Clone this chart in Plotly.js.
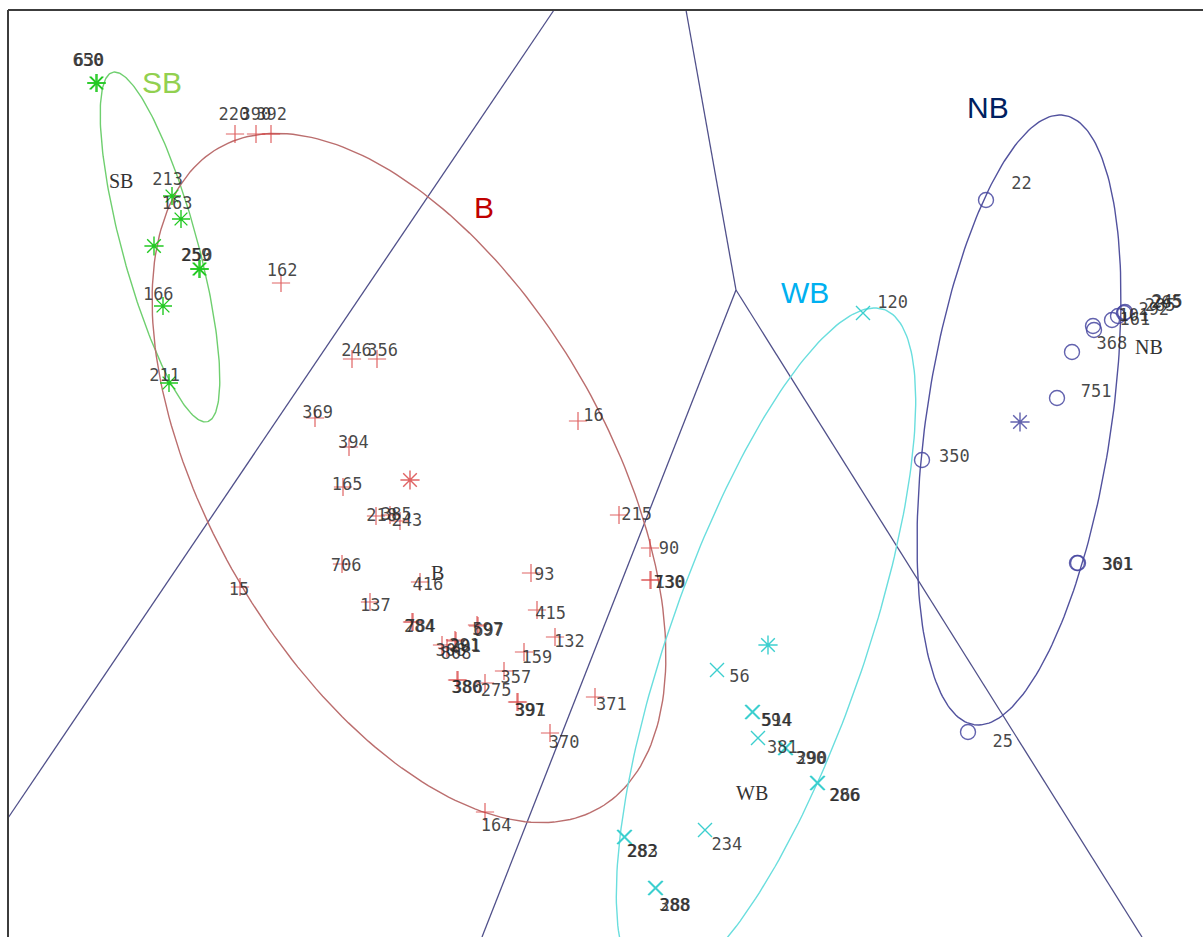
<!DOCTYPE html>
<html>
<head>
<meta charset="utf-8">
<script src="https://cdn.plot.ly/plotly-3.0.1.min.js"></script>
<style>
  html, body { margin: 0; padding: 0; background: #fff; }
  #chart { width: 1203px; height: 937px; }
</style>
</head>
<body>
<div id="chart"></div>
<script>
// Canonical discriminant scores (plot units) for each case, by group.
const sbId = ['650', '630', '213', '163', '259', '250', '166', '211'];
const sbX  = [96, 97, 172, 181, 199, 200, 163, 169];
const sbY  = [83, 83, 196, 219, 269, 269, 306, 383];

const bId = ['220', '390', '392', '162', '246', '356', '369', '394', '165', '218', '385', '243',
             '706', '416', '93', '16', '215', '90', '730', '130', '137', '284', '784', '597', '697',
             '291', '201', '308', '808', '380', '386', '275', '357', '397', '391', '415', '132',
             '159', '371', '370', '164', '15'];
const bX = [235, 256, 271, 281, 352, 377, 315, 349, 343, 376, 390, 400,
            342, 420, 531, 578, 619, 650, 650, 651, 370, 412, 413, 477, 478,
            455, 456, 442, 447, 457, 458, 485, 504, 517, 518, 537, 555,
            524, 595, 550, 485, 240];
const bY = [134, 134, 134, 283, 359, 359, 418, 447, 487, 516, 515, 521,
            564, 582, 573, 421, 515, 548, 580, 580, 602, 622, 622, 625, 626,
            640, 641, 645, 648, 680, 680, 683, 671, 702, 702, 610, 637,
            652, 697, 733, 812, 587];

const wbId = ['120', '56', '594', '514', '381', '390', '290', '286', '266', '234', '282', '283', '388', '288'];
const wbX  = [863, 717, 752, 753, 758, 785, 786, 817, 818, 705, 624, 625, 655, 656];
const wbY  = [313, 670, 712, 712, 738, 748, 748, 783, 783, 830, 837, 837, 888, 888];

const nbId = ['22', '292', '285', '245', '265', '161', '101', '368', '751', '350', '361', '301', '25'];
const nbX  = [986, 1112, 1118, 1125, 1124, 1094, 1093, 1072, 1057, 922, 1077, 1078, 968];
const nbY  = [200, 320, 316, 312, 313, 330, 326, 352, 398, 460, 563, 563, 732];

// Group centroids
const groupNames = ['SB', 'B', 'WB', 'NB'];
const centroidX = [154, 410, 768, 1020];
const centroidY = [246, 480, 645, 422];

// Confidence ellipses: centre, semi-axes and rotation (degrees)
const ellipseCX = [160, 409, 766, 1019];
const ellipseCY = [247, 478, 648, 420];
const ellipseA  = [181, 381, 358.5, 308];
const ellipseB  = [37.7, 199, 97.7, 92.5];
const ellipseAngle = [74.8, 60, 109.2, 98.4];

// Territorial map boundaries (segments)
const boundaryX = [[8, 554], [736, 686], [736, 482], [736, 1142]];
const boundaryY = [[818, 10], [290, 10], [290, 937], [290, 937]];

// Styling
const groupColor   = { SB: '#22c922', B: 'rgba(215,60,60,0.8)', WB: '#3ccfcf', NB: 'rgba(70,70,160,0.85)' };
const ellipseColor = { SB: '#6fcf6f', B: '#bb6e6e', WB: '#6adede', NB: '#52529e' };
const headingColor = { SB: '#92D050', B: '#C00000', WB: '#00B0F0', NB: '#002060' };
const groupSymbol  = { SB: 'asterisk-open', B: 'cross-thin-open', WB: 'x-thin-open', NB: 'circle-open' };
const groupSize    = { SB: 15, B: 13, WB: 14, NB: 15 };

const groups = {
  SB: { id: sbId, x: sbX, y: sbY },
  B:  { id: bId,  x: bX,  y: bY },
  WB: { id: wbId, x: wbX, y: wbY },
  NB: { id: nbId, x: nbX, y: nbY }
};

// Case labels are placed on a slightly expanded copy of the scores
const labelScale = 0.049, labelOX = 260, labelOY = 510;
function labelPos(v, o) { return v + labelScale * (v - o); }

function ellipsePoints(cx, cy, a, b, deg) {
  const th = deg * Math.PI / 180, xs = [], ys = [];
  for (let i = 0; i <= 240; i++) {
    const t = 2 * Math.PI * i / 240;
    xs.push(cx + a * Math.cos(t) * Math.cos(th) - b * Math.sin(t) * Math.sin(th));
    ys.push(cy + a * Math.cos(t) * Math.sin(th) + b * Math.sin(t) * Math.cos(th));
  }
  return { x: xs, y: ys };
}

const traces = [];

boundaryX.forEach((bx, i) => {
  traces.push({
    type: 'scatter', mode: 'lines', x: bx, y: boundaryY[i],
    line: { color: '#50508a', width: 1.3 }, hoverinfo: 'skip', showlegend: false
  });
});

groupNames.forEach((g, i) => {
  const e = ellipsePoints(ellipseCX[i], ellipseCY[i], ellipseA[i], ellipseB[i], ellipseAngle[i]);
  traces.push({
    type: 'scatter', mode: 'lines', x: e.x, y: e.y,
    line: { color: ellipseColor[g], width: 1.4 }, hoverinfo: 'skip', showlegend: false
  });
});

groupNames.forEach(g => {
  const d = groups[g];
  traces.push({
    type: 'scatter', mode: 'markers', x: d.x, y: d.y, name: g,
    marker: {
      symbol: groupSymbol[g], size: groupSize[g], color: groupColor[g],
      line: { color: groupColor[g], width: g === 'B' ? 1.2 : 1.4 }
    },
    hoverinfo: 'skip', showlegend: false
  });
});

groupNames.forEach((g, i) => {
  traces.push({
    type: 'scatter', mode: 'markers', x: [centroidX[i]], y: [centroidY[i]],
    marker: {
      symbol: 'asterisk-open', size: 16, color: groupColor[g],
      line: { color: groupColor[g], width: 1.4 }
    },
    hoverinfo: 'skip', showlegend: false
  });
});

groupNames.forEach(g => {
  const d = groups[g];
  traces.push({
    type: 'scatter', mode: 'text',
    x: d.x.map(v => labelPos(v, labelOX)),
    y: d.y.map(v => labelPos(v, labelOY)),
    text: d.id, textposition: 'middle center',
    textfont: { family: 'DejaVu Sans Mono, monospace', size: 17, color: 'rgba(40,40,40,0.85)' },
    hoverinfo: 'skip', showlegend: false
  });
});

// Group names near each cloud, and coloured headings
const groupLabelX = [121, 437, 752, 1149];
const groupLabelY = [181, 573, 793, 347];
const headingX = [162, 484, 805, 988];
const headingY = [82, 207, 292, 107];

const annotations = [];
groupNames.forEach((g, i) => {
  annotations.push({
    x: groupLabelX[i], y: groupLabelY[i], xref: 'x', yref: 'y', text: g, showarrow: false,
    font: { family: 'Liberation Serif, serif', size: 20, color: '#333' }
  });
  annotations.push({
    x: headingX[i], y: headingY[i], xref: 'x', yref: 'y', text: g, showarrow: false,
    font: { family: 'Liberation Sans, Arial, sans-serif', size: 30, color: headingColor[g] }
  });
});

const layout = {
  width: 1203, height: 937,
  margin: { l: 0, r: 0, t: 0, b: 0 },
  paper_bgcolor: '#ffffff', plot_bgcolor: '#ffffff',
  xaxis: { range: [0, 1203], showgrid: false, zeroline: false, showticklabels: false, ticks: '', showline: false, fixedrange: true },
  yaxis: { range: [937, 0], showgrid: false, zeroline: false, showticklabels: false, ticks: '', showline: false, fixedrange: true },
  shapes: [
    { type: 'line', xref: 'x', yref: 'y', x0: 8, y0: 10, x1: 1203, y1: 10, line: { color: '#3c3c3c', width: 2 } },
    { type: 'line', xref: 'x', yref: 'y', x0: 8, y0: 10, x1: 8, y1: 937, line: { color: '#3c3c3c', width: 2 } }
  ],
  annotations: annotations,
  showlegend: false
};

Plotly.newPlot('chart', traces, layout, { displayModeBar: false, staticPlot: true });
</script>
</body>
</html>
